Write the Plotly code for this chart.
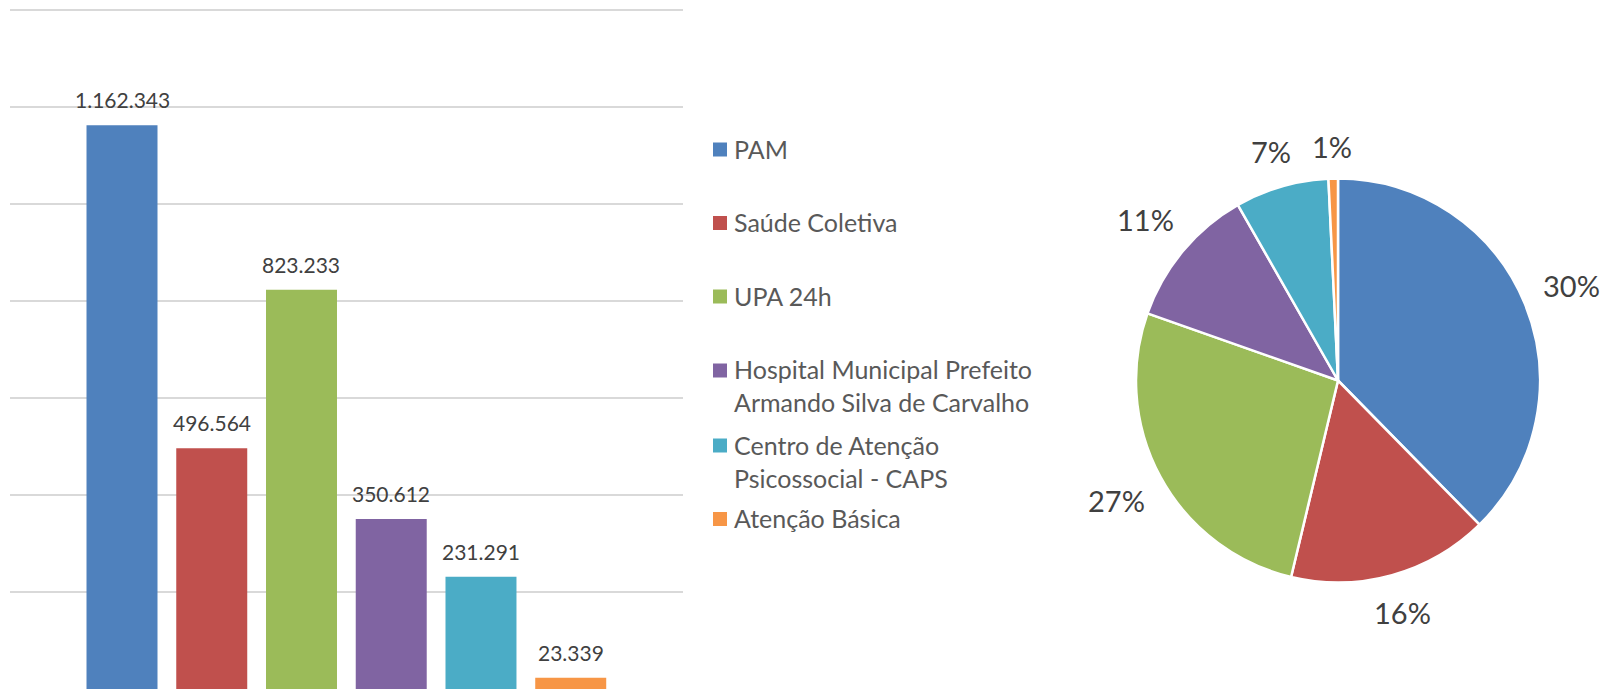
import math
import plotly.graph_objects as go

categories = ["PAM", "Saúde Coletiva", "UPA 24h",
              "Hospital Municipal Prefeito Armando Silva de Carvalho",
              "Centro de Atenção Psicossocial - CAPS", "Atenção Básica"]
legend_labels = ["PAM", "Saúde Coletiva", "UPA 24h",
                 "Hospital Municipal Prefeito<br>Armando Silva de Carvalho",
                 "Centro de Atenção<br>Psicossocial - CAPS", "Atenção Básica"]
values = [1162343, 496564, 823233, 350612, 231291, 23339]
pie_labels = ["30%", "16%", "27%", "11%", "7%", "1%"]
colors = ["#4F81BD", "#C0504D", "#9BBB59", "#8064A2", "#4BACC6", "#F79646"]

W, H = 1614, 689
FONT = "Lato"
TXT = "#404040"
LEG_TXT = "#595959"

def fmt(v):
    return f"{v:,}".replace(",", ".")

fig = go.Figure()
fig.add_trace(go.Bar(x=categories, y=values, marker=dict(color=colors, line=dict(width=0)),
                     width=0.791, showlegend=False, hoverinfo="x+y"))

# pie geometry (pixels)
cx, cy, R = 1338, 380.5, 202
fig.add_trace(go.Pie(labels=categories, values=values, sort=False, direction="clockwise",
                     rotation=0, textinfo="none", showlegend=False,
                     marker=dict(colors=colors, line=dict(color="white", width=2.5)),
                     domain=dict(x=[(cx - R) / W, (cx + R) / W],
                                 y=[1 - (cy + R) / H, 1 - (cy - R) / H])))

annotations = []
# bar value labels
for c, v in zip(categories, values):
    annotations.append(dict(x=c, y=v, xref="x", yref="y", text=fmt(v), showarrow=False,
                            yanchor="bottom", yshift=11,
                            font=dict(family=FONT, size=21, color=TXT)))

# pie labels outside slice midpoints (best-fit style: box kept a gap outside the circle)
total = sum(values)
cum = 0
gap = 21
for v, lab in zip(values, pie_labels):
    mid = (cum + v / 2) / total * 2 * math.pi
    cum += v
    s, c = math.sin(mid), math.cos(mid)
    half_w, half_h = 9 * len(lab), 11
    r = R + gap + abs(s) * half_w + abs(c) * half_h
    px = cx + r * s
    py = cy - r * c
    annotations.append(dict(x=px / W, y=1 - py / H, xref="paper", yref="paper", text=lab,
                            showarrow=False, xanchor="center", yanchor="middle",
                            font=dict(family=FONT, size=29, color=TXT)))

# legend
legend_y = [149.5, 223, 296.5, 370.5, 445.5, 519]
shapes = []
for lab, col, ly in zip(legend_labels, colors, legend_y):
    shapes.append(dict(type="rect", xref="paper", yref="paper",
                       x0=713 / W, x1=727 / W, y0=1 - (ly + 7) / H, y1=1 - (ly - 7) / H,
                       fillcolor=col, line=dict(width=0)))
    annotations.append(dict(x=732 / W, y=1 - (ly - 18) / H, xref="paper", yref="paper",
                            text=lab, showarrow=False, xanchor="left", yanchor="top",
                            align="left", font=dict(family=FONT, size=25, color=LEG_TXT)))

# 1.4M gridline sits 10 px below the top edge
top = 1400000 * H / (H - 10)
fig.update_layout(
    width=W, height=H,
    margin=dict(l=0, r=0, t=0, b=0),
    paper_bgcolor="white", plot_bgcolor="white",
    xaxis=dict(domain=[10 / W, 683 / W], range=[-1.248, 6.251], showticklabels=False,
               showgrid=False, zeroline=False, showline=False, ticks=""),
    yaxis=dict(domain=[0, 1], range=[0, top], tick0=0, dtick=200000,
               showticklabels=False, showgrid=True, gridcolor="#D9D9D9", gridwidth=2,
               zeroline=False, showline=False, ticks=""),
    annotations=annotations, shapes=shapes, bargap=0.2,
)

fig.write_html("out.html", config={"displayModeBar": False},
               post_script="document.body.style.margin='0';document.body.style.overflow='hidden';")
